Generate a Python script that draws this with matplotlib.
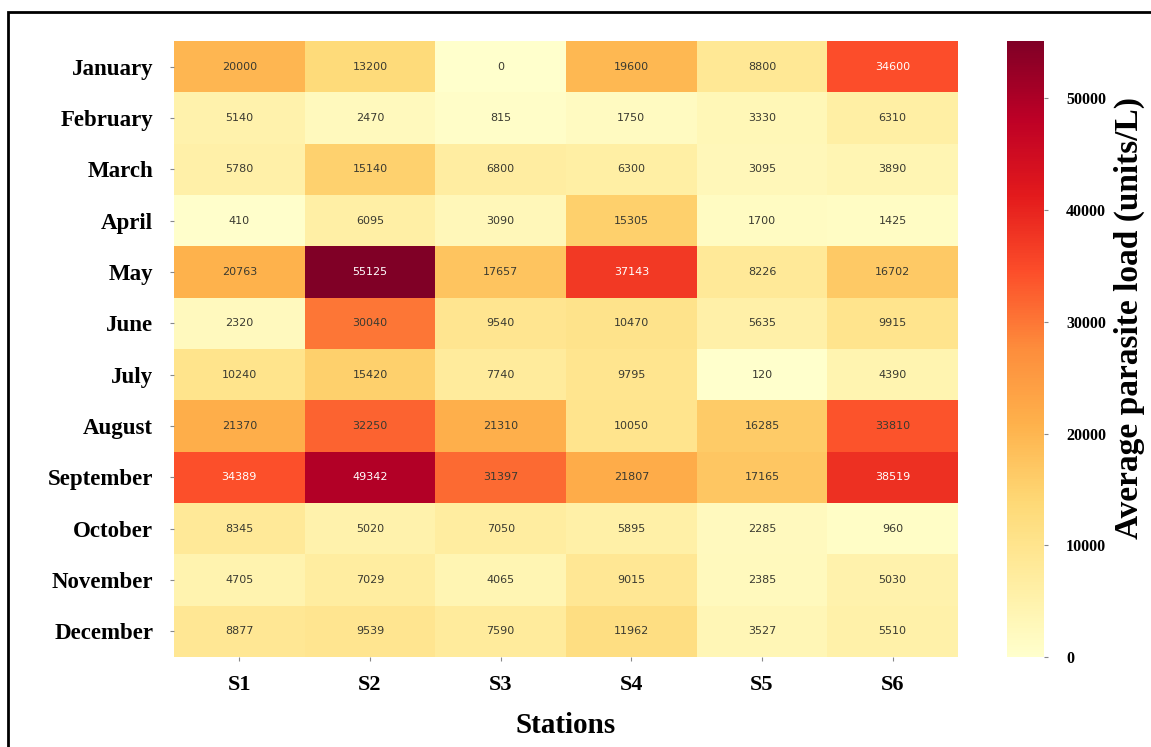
import numpy as np
import matplotlib.pyplot as plt
from matplotlib.colors import Normalize
from matplotlib.patches import Rectangle

months = ["January", "February", "March", "April", "May", "June", "July",
          "August", "September", "October", "November", "December"]
stations = ["S1", "S2", "S3", "S4", "S5", "S6"]

s1 = [20000, 5140, 5780, 410, 20763, 2320, 10240, 21370, 34389, 8345, 4705, 8877]
s2 = [13200, 2470, 15140, 6095, 55125, 30040, 15420, 32250, 49342, 5020, 7029, 9539]
s3 = [0, 815, 6800, 3090, 17657, 9540, 7740, 21310, 31397, 7050, 4065, 7590]
s4 = [19600, 1750, 6300, 15305, 37143, 10470, 9795, 10050, 21807, 5895, 9015, 11962]
s5 = [8800, 3330, 3095, 1700, 8226, 5635, 120, 16285, 17165, 2285, 2385, 3527]
s6 = [34600, 6310, 3890, 1425, 16702, 9915, 4390, 33810, 38519, 960, 5030, 5510]

data = np.array([s1, s2, s3, s4, s5, s6]).T
cmap = plt.get_cmap("YlOrRd")
norm = Normalize(vmin=data.min(), vmax=data.max())

serif = ["Liberation Serif", "DejaVu Serif"]

fig = plt.figure(figsize=(11.51, 7.47), dpi=100)
ax = fig.add_axes([0.1512, 0.1205, 0.6811, 0.8246])
cax = fig.add_axes([0.8749, 0.1205, 0.0321, 0.8246])

mesh = ax.pcolormesh(data, cmap=cmap, norm=norm)
ax.set_xlim(0, len(stations))
ax.set_ylim(len(months), 0)

# annotate each cell, light text on dark cells
for i in range(data.shape[0]):
    for j in range(data.shape[1]):
        r, g, b, _ = cmap(norm(data[i, j]))
        lum = 0.2126 * r + 0.7152 * g + 0.0722 * b
        color = "white" if lum < 0.45 else "#3a3a30"
        ax.text(j + 0.5, i + 0.5, f"{data[i, j]}", ha="center", va="center",
                fontsize=8, color=color, family="DejaVu Sans")

ax.set_xticks(np.arange(len(stations)) + 0.5)
ax.set_xticklabels(stations, family=serif, fontweight="bold", fontsize=16)
ax.set_yticks(np.arange(len(months)) + 0.5)
ax.set_yticklabels(months, family=serif, fontweight="bold", fontsize=16.5)
ax.tick_params(axis="both", length=3, width=0.8, color="#888888", pad=10)
ax.tick_params(axis="y", pad=12)
for sp in ax.spines.values():
    sp.set_visible(False)
ax.set_xlabel("Stations", family=serif, fontweight="bold", fontsize=21,
              labelpad=12)

cb = fig.colorbar(mesh, cax=cax)
cb.outline.set_visible(False)
cb.set_ticks([0, 10000, 20000, 30000, 40000, 50000])
cb.ax.tick_params(length=3, width=0.8, color="#888888", pad=13)
for t in cb.ax.get_yticklabels():
    t.set_family(serif)
    t.set_fontweight("bold")
    t.set_fontsize(11.5)
cb.set_label("Average parasite load (units/L)", family=serif,
             fontweight="bold", fontsize=24)
cb.ax.yaxis.set_label_coords(2.9, 0.55)

# frame around the figure
fig.patches.append(Rectangle((0.007, -0.05), 1.1, 1.034, transform=fig.transFigure,
                             fill=False, edgecolor="black", linewidth=2.0))

fig.savefig("out.png", dpi=100)
